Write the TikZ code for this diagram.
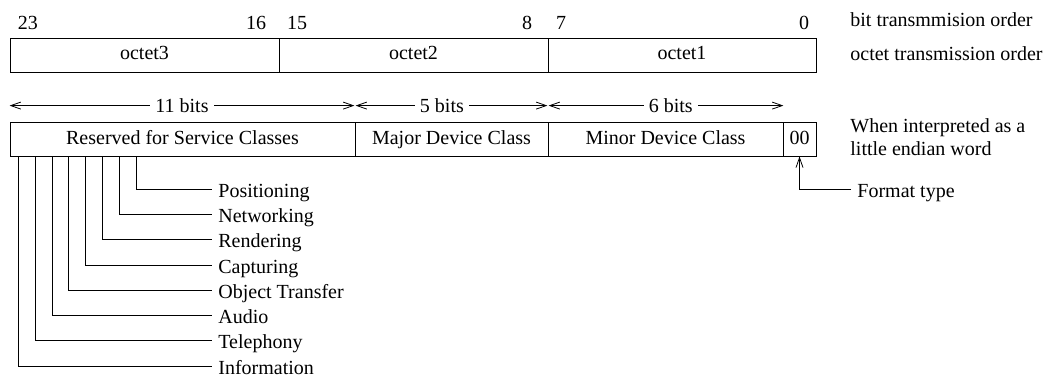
\documentclass[tikz,border=0pt]{standalone}
\usepackage{fontspec}
\setmainfont{Liberation Serif}
\usepackage{tikz}
\usetikzlibrary{arrows.meta,positioning,calc}

\tikzset{
    field/.style={draw, inner sep=0pt, minimum height=34pt, text height=14pt, text depth=4pt},
    leaf/.style={anchor=west, inner xsep=6pt, inner ysep=0pt, text height=16pt, text depth=0pt},
    bitarrow/.style={{Straight Barb[length=10pt,width=7pt]}-{Straight Barb[length=10pt,width=7pt]}},
}

\begin{document}
\begin{tikzpicture}[x=1pt, y=-1pt, line width=0.8pt, font=\fontsize{20}{23}\selectfont,
    >={Straight Barb[length=10pt,width=7pt]}]
    \useasboundingbox (0,0) rectangle (1046,377);

    % octets
    \node[field, minimum width=269pt] (oct3) at (144.5,55) {octet3};
    \node[field, minimum width=269pt] (oct2) at (413.5,55) {octet2};
    \node[field, minimum width=268pt] (oct1) at (682,55) {octet1};
    \node[anchor=base] (b23) at (27.8,30) {23};
    \node[anchor=base] (b16) at (256,30) {16};
    \node[anchor=base] (b15) at (297,30) {15};
    \node[anchor=base] (b8) at (527,30) {8};
    \node[anchor=base] (b7) at (561,30) {7};
    \node[anchor=base] (b0) at (804,30) {0};
    \node[anchor=base west, inner sep=0pt] (bitord) at (850,27) {bit transmmision order};
    \node[anchor=base west, inner sep=0pt] (octord) at (850,61) {octet transmission order};

    % fields
    \node[field, minimum width=345pt] (res) at (182.5,139) {Reserved for Service Classes};
    \node[field, minimum width=193pt] (major) at (451.5,139) {Major Device Class};
    \node[field, minimum width=235pt] (minor) at (665.5,139) {Minor Device Class};
    \node[field, minimum width=33pt] (fmt) at (799.5,139) {00};
    \node[anchor=west, inner sep=0pt, align=left] (endian) at (850,137) {When interpreted as a\\little endian word};

    \draw[bitarrow] ([yshift=16pt]res.north west) -- ([yshift=16pt,xshift=-1pt]res.north east) node[midway, fill=white, inner xsep=5pt] {11 bits};
    \draw[bitarrow] ([yshift=16pt,xshift=1pt]major.north west) -- ([yshift=16pt,xshift=-1pt]major.north east) node[pos=0.45, fill=white, inner xsep=5pt] {5 bits};
    \draw[bitarrow] ([yshift=16pt,xshift=1pt]minor.north west) -- ([yshift=16pt]minor.north east) node[pos=0.52, fill=white, inner xsep=5pt] {6 bits};

    % format type
    \node[leaf] (fmttype) at (851,189) {Format type};
    \draw[->] (fmttype.west) -| (fmt.south);

    % service classes
    \node[leaf] (posi) at (212,189.3) {Positioning};
    \node[leaf] (netw) at (212,214.5) {Networking};
    \node[leaf] (rend) at (212,239.8) {Rendering};
    \node[leaf] (capt) at (212,265) {Capturing};
    \node[leaf] (objt) at (212,290.2) {Object Transfer};
    \node[leaf] (audio) at (212,315.5) {Audio};
    \node[leaf] (tele) at (212,340.7) {Telephony};
    \node[leaf] (info) at (212,366) {Information};
    \draw (135.9,0 |- res.south) |- (posi.west);
    \draw (119.1,0 |- res.south) |- (netw.west);
    \draw (102.3,0 |- res.south) |- (rend.west);
    \draw (85.5,0 |- res.south) |- (capt.west);
    \draw (68.7,0 |- res.south) |- (objt.west);
    \draw (51.9,0 |- res.south) |- (audio.west);
    \draw (35.1,0 |- res.south) |- (tele.west);
    \draw (18.3,0 |- res.south) |- (info.west);
\end{tikzpicture}
\end{document}
